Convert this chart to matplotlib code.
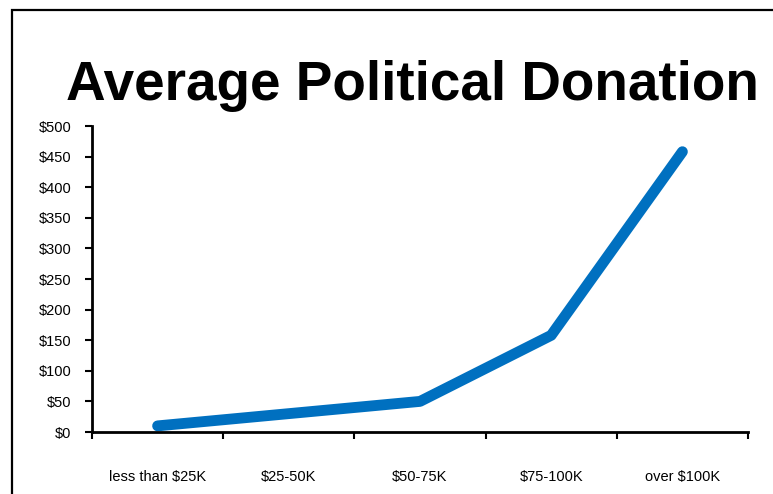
import matplotlib.pyplot as plt
from matplotlib.patches import Rectangle
from matplotlib.ticker import FuncFormatter

# Average donation by household income bracket
brackets = ['less than $25K', '$25-50K', '$50-75K', '$75-100K', 'over $100K']
donations = [10, 30, 50, 158, 458]
y_ticks = list(range(0, 501, 50))

plt.rcParams['font.family'] = ['Liberation Sans', 'DejaVu Sans']

W, H = 773, 494
fig = plt.figure(figsize=(W / 100, H / 100), dpi=100)

# Slide-style border around the chart
fig.patches.append(Rectangle((12 / W, -0.1), 1.2, 1 - 10 / H + 0.1, transform=fig.transFigure,
                             fill=False, edgecolor='black', linewidth=1.6))

ax = fig.add_axes([92 / W, (H - 432) / H, (748 - 92) / W, (432 - 126) / H])
x = list(range(len(brackets)))
ax.plot(x, donations, color='#0070C0', linewidth=7.8, solid_capstyle='round',
        solid_joinstyle='round')

ax.set_xlim(-0.5, len(brackets) - 0.5)
ax.set_ylim(0, 500)
ax.set_yticks(y_ticks)
ax.yaxis.set_major_formatter(FuncFormatter(lambda v, p: f'${v:.0f}'))
ax.tick_params(axis='y', direction='out', length=5, width=1.5, pad=10, labelsize=10.5)

# category boundaries get the tick marks, labels sit between them
ax.set_xticks([i - 0.5 for i in range(len(brackets) + 1)])
ax.set_xticklabels([])
ax.set_xticks(x, minor=True)
ax.set_xticklabels(brackets, minor=True)
ax.tick_params(axis='x', which='major', direction='out', length=5, width=1.5)
ax.tick_params(axis='x', which='minor', length=0, pad=27, labelsize=10.5)

for side in ['top', 'right']:
    ax.spines[side].set_visible(False)
for side in ['left', 'bottom']:
    ax.spines[side].set_linewidth(2)

fig.text(412 / W, 1 - 100 / H, 'Average Political Donation', ha='center', va='baseline',
         fontsize=39.5, fontweight='bold')

fig.savefig('out.png', dpi=100)
